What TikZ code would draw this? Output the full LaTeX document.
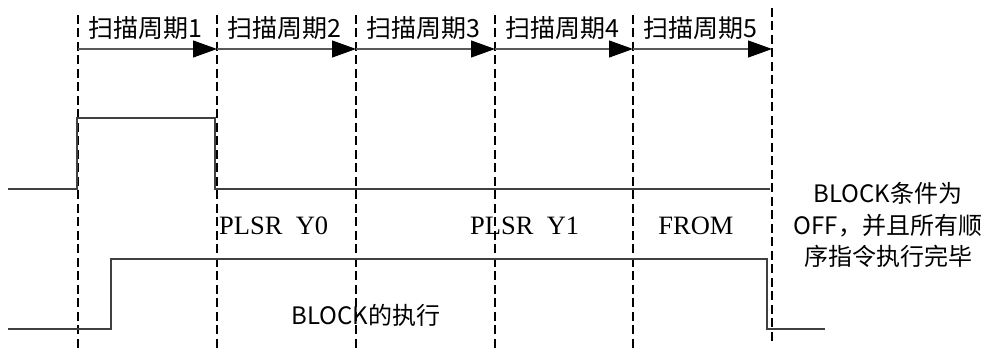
\documentclass[tikz,border=0pt]{standalone}
\usepackage{fontspec}
\setmainfont{Liberation Serif}
\newfontfamily\cjk{Noto Sans CJK SC}
\usetikzlibrary{arrows.meta}
\begin{document}
\begin{tikzpicture}[x=1pt,y=-1pt,
  divline/.style={black,line width=1.5pt,dash pattern=on 9pt off 4.5pt},
  sigline/.style={draw=black!75,line width=1.1pt},
  perarrow/.style={draw=black!65,line width=1.2pt,-{Triangle[length=24pt,width=17pt,black]}},
  perlabel/.style={font=\cjk\fontsize{25}{28}\selectfont,inner sep=0pt,anchor=center},
  instr/.style={font=\fontsize{26.5}{28}\selectfont,inner sep=0pt,anchor=center},
  note/.style={font=\cjk\fontsize{24}{31.5}\selectfont,inner sep=0pt,align=center}]
\useasboundingbox (0,0) rectangle (989,352);
% divider coordinates
\foreach \i/\x in {0/78,1/217,2/356,3/495,4/633}{
  \coordinate (t\i) at (\x,15);
  \coordinate (b\i) at (\x,352);
  \coordinate (a\i) at (\x,49);
}
\coordinate (t5) at (772,8);
\coordinate (b5) at (772,343);
\coordinate (a5) at (772,49);
\foreach \i in {0,...,5}{\draw[divline] (t\i) -- (b\i);}
% period arrows and labels
\foreach \i/\j/\n in {0/1/1,1/2/2,2/3/3,3/4/4,4/5/5}{
  \draw[perarrow] (a\i) -- (a\j);
  \path (a\i) -- (a\j) node[midway,yshift=21pt,xshift=-2pt,perlabel] (p\n) {扫描周期\n};
}
% top signal
\coordinate (s0) at (8,189);
\coordinate (s1) at (77,189);
\coordinate (s2) at (77,118);
\coordinate (s3) at (215,118);
\coordinate (s4) at (215,189);
\coordinate (s5) at (770,189);
\draw[sigline] (s0) -- (s1) -- (s2) -- (s3) -- (s4) -- (s5);
% bottom signal
\coordinate (u0) at (8,329);
\coordinate (u1) at (111,329);
\coordinate (u2) at (111,259);
\coordinate (u3) at (767,259);
\coordinate (u4) at (767,329);
\coordinate (u5) at (825,329);
\draw[sigline] (u0) -- (u1) -- (u2) -- (u3) -- (u4) -- (u5);
% instruction labels
\node[instr,anchor=west] (i1) at (219,226) {PLSR\ \ Y0};
\node[instr,anchor=west] (i2) at (470,226) {PLSR\ \ Y1};
\node[instr] (i3) at (696,226) {FROM};
\node[font=\cjk\fontsize{24}{26}\selectfont,inner sep=0pt] (blk) at (366,315) {BLOCK的执行};
\node[note] (cond) at (888,225) {BLOCK条件为\\OFF，并且所有顺\\序指令执行完毕};
\end{tikzpicture}
\end{document}
